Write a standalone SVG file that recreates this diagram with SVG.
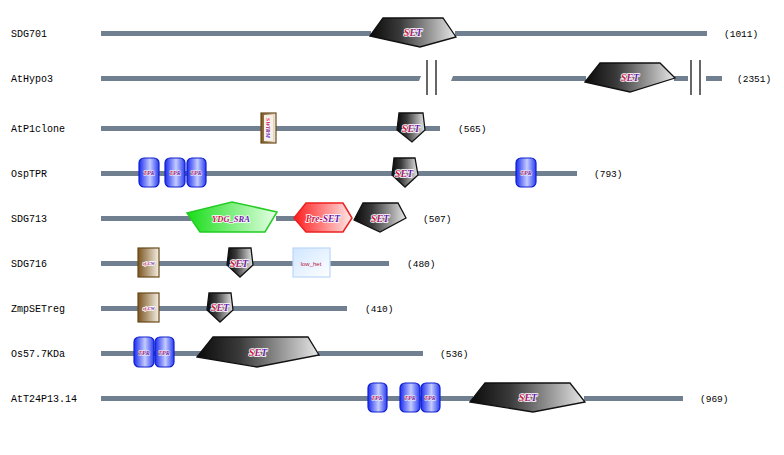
<svg xmlns="http://www.w3.org/2000/svg" width="784" height="455" viewBox="0 0 784 455">
<defs>
<linearGradient id="gSet" x1="0" y1="0" x2="1" y2="0"><stop offset="0" stop-color="#0a0a0a"/><stop offset="0.35" stop-color="#3a3a3a"/><stop offset="1" stop-color="#e8e8e8"/></linearGradient>
<linearGradient id="gTpr" x1="0" y1="0" x2="1" y2="0"><stop offset="0" stop-color="#1c2cf0"/><stop offset="0.55" stop-color="#c4ccff"/><stop offset="1" stop-color="#2a3cf0"/></linearGradient>
<linearGradient id="gBrown" x1="0" y1="0" x2="1" y2="0"><stop offset="0" stop-color="#7a5520"/><stop offset="1" stop-color="#f6f0e6"/></linearGradient>
<linearGradient id="gGreen" x1="0" y1="0" x2="1" y2="0"><stop offset="0" stop-color="#18dd18"/><stop offset="1" stop-color="#e6ffe6"/></linearGradient>
<linearGradient id="gRed" x1="0" y1="0" x2="1" y2="0"><stop offset="0" stop-color="#ff1c1c"/><stop offset="1" stop-color="#ffe8e8"/></linearGradient>
<linearGradient id="gBlue" x1="0" y1="0" x2="1" y2="1"><stop offset="0" stop-color="#cfe6ff"/><stop offset="1" stop-color="#ffffff"/></linearGradient>
<linearGradient id="gTxt" x1="0" y1="0" x2="1" y2="0"><stop offset="0" stop-color="#e8102a"/><stop offset="1" stop-color="#4a18c8"/></linearGradient>
</defs>
<style>
.lbl{font-family:"Liberation Mono",monospace;font-size:10px;fill:#000}
.num{font-family:"Liberation Mono",monospace;font-size:9.5px;fill:#000}
.ln{fill:#708090}
.set{fill:url(#gSet);stroke:#111;stroke-width:1.3}
.tpr{fill:url(#gTpr);stroke:#1020d0;stroke-width:1.2}
.brn{fill:url(#gBrown);stroke:#6a4a18;stroke-width:1.2}
.dt{font-family:"Liberation Serif",serif;font-weight:bold;font-style:italic;fill:url(#gTxt);text-anchor:middle;stroke:#fff;stroke-width:1.6;paint-order:stroke;stroke-linejoin:round}
.st{font-size:10px}
.tt{font-size:6px;stroke-width:0.8}
.brk{stroke:#000;stroke-width:1.2}
</style>

<g id="SDG701">
<text class="lbl" x="11" y="37">SDG701</text>
<rect class="ln" x="101" y="31" width="270" height="5"/>
<rect class="ln" x="455" y="31" width="252" height="5"/>
<polygon class="set" points="370,36 383,18 443,18 456,37 420,47"/>
<text class="dt st" x="413" y="36">SET</text>
<text class="num" x="724" y="37">(1011)</text>
</g>

<g id="AtHypo3">
<text class="lbl" x="11" y="82">AtHypo3</text>
<polygon class="ln" points="101,76 421,76 419,81 101,81"/>
<line class="brk" x1="427" y1="60" x2="427" y2="95"/>
<line class="brk" x1="436" y1="60" x2="436" y2="95"/>
<polygon class="ln" points="453,76 586,76 586,81 451,81"/>
<rect class="ln" x="674" y="76" width="14" height="5"/>
<line class="brk" x1="691" y1="60" x2="691" y2="95"/>
<line class="brk" x1="700" y1="60" x2="700" y2="95"/>
<rect class="ln" x="706" y="76" width="16" height="5"/>
<polygon class="set" points="585,82 600,63 660,63 675,78 630,92"/>
<text class="dt st" x="630" y="81">SET</text>
<text class="num" x="737" y="82">(2351)</text>
</g>

<g id="AtP1clone">
<text class="lbl" x="11" y="132">AtP1clone</text>
<rect class="ln" x="101" y="126" width="339" height="5"/>
<rect class="brn" x="261" y="113" width="15" height="30"/>
<rect x="264" y="115" width="9" height="26" fill="#f4eee4"/>
<text class="dt" x="0" y="0" font-size="6" stroke-width="0.8" transform="translate(266,128) rotate(90)">SWIRM</text>
<polygon class="set" points="399,113 423,113 425,130 412,142 397,130"/>
<text class="dt st" x="411" y="132">SET</text>
<text class="num" x="458" y="132">(565)</text>
</g>

<g id="OspTPR">
<text class="lbl" x="11" y="177">OspTPR</text>
<rect class="ln" x="101" y="171" width="476" height="5"/>
<rect class="tpr" x="139" y="158" width="20" height="29" rx="5"/>
<rect class="tpr" x="165" y="158" width="20" height="29" rx="5"/>
<rect class="tpr" x="187" y="158" width="19" height="29" rx="5"/>
<rect class="tpr" x="516" y="158" width="20" height="29" rx="5"/>
<text class="dt tt" x="149" y="175">TPR</text>
<text class="dt tt" x="175" y="175">TPR</text>
<text class="dt tt" x="196" y="175">TPR</text>
<text class="dt tt" x="526" y="175">TPR</text>
<polygon class="set" points="394,158 415,158 418,175 405,187 392,175"/>
<text class="dt st" x="404" y="177">SET</text>
<text class="num" x="594" y="177">(793)</text>
</g>

<g id="SDG713">
<text class="lbl" x="11" y="222">SDG713</text>
<rect class="ln" x="101" y="216" width="90" height="5"/>
<rect class="ln" x="276" y="216" width="20" height="5"/>
<polygon points="187,213 232,202 277,212 265,232 200,232" fill="url(#gGreen)" stroke="#22cc22" stroke-width="1.5"/>
<text class="dt" x="231" y="222" font-size="8.5" stroke-width="1.2">YDG_SRA</text>
<polygon points="294,218 306,203 343,203 352,218 343,232 306,232" fill="url(#gRed)" stroke="#ee2020" stroke-width="1.5"/>
<text class="dt" x="323" y="222" font-size="9.5" stroke-width="1.2">Pre-SET</text>
<polygon class="set" points="354,220 363,203 398,203 406,218 380,232"/>
<text class="dt st" x="380" y="222">SET</text>
<text class="num" x="423" y="222">(507)</text>
</g>

<g id="SDG716">
<text class="lbl" x="11" y="267">SDG716</text>
<rect class="ln" x="101" y="261" width="288" height="5"/>
<rect class="brn" x="138" y="248" width="21" height="29"/>
<text class="dt" x="149" y="265" font-size="4.5" stroke-width="0.8">zf-CW</text>
<polygon class="set" points="229,248 251,248 253,265 240,277 227,265"/>
<text class="dt st" x="239" y="267">SET</text>
<rect x="293" y="248" width="37" height="29" fill="url(#gBlue)" stroke="#bcd8f8" stroke-width="1.2"/>
<text x="311" y="266" font-family="Liberation Sans,sans-serif" font-size="6" fill="#c01040" text-anchor="middle">low_het</text>
<text class="num" x="407" y="267">(480)</text>
</g>

<g id="ZmpSETreg">
<text class="lbl" x="11" y="312">ZmpSETreg</text>
<rect class="ln" x="101" y="306" width="246" height="5"/>
<rect class="brn" x="138" y="293" width="21" height="29"/>
<text class="dt" x="149" y="310" font-size="4.5" stroke-width="0.8">zf-CW</text>
<polygon class="set" points="209,293 231,293 233,310 220,322 207,310"/>
<text class="dt st" x="220" y="311">SET</text>
<text class="num" x="365" y="312">(410)</text>
</g>

<g id="Os57.7KDa">
<text class="lbl" x="11" y="357">Os57.7KDa</text>
<rect class="ln" x="101" y="351" width="100" height="5"/>
<rect class="ln" x="318" y="351" width="105" height="5"/>
<rect class="tpr" x="134" y="337" width="20" height="30" rx="5"/>
<rect class="tpr" x="155" y="337" width="19" height="30" rx="5"/>
<text class="dt tt" x="144" y="355">TPR</text>
<text class="dt tt" x="164" y="355">TPR</text>
<polygon class="set" points="197,357 213,337 308,337 319,355 257,367"/>
<text class="dt st" x="258" y="356">SET</text>
<text class="num" x="440" y="357">(536)</text>
</g>

<g id="AtT24P13.14">
<text class="lbl" x="11" y="402">AtT24P13.14</text>
<rect class="ln" x="101" y="396" width="372" height="5"/>
<rect class="ln" x="584" y="396" width="99" height="5"/>
<rect class="tpr" x="368" y="383" width="19" height="29" rx="5"/>
<rect class="tpr" x="400" y="383" width="20" height="29" rx="5"/>
<rect class="tpr" x="421" y="383" width="19" height="29" rx="5"/>
<text class="dt tt" x="377" y="400">TPR</text>
<text class="dt tt" x="410" y="400">TPR</text>
<text class="dt tt" x="430" y="400">TPR</text>
<polygon class="set" points="470,402 485,383 570,383 585,402 533,412"/>
<text class="dt st" x="528" y="401">SET</text>
<text class="num" x="700" y="402">(969)</text>
</g>
<g id="connectors"/>
</svg>
